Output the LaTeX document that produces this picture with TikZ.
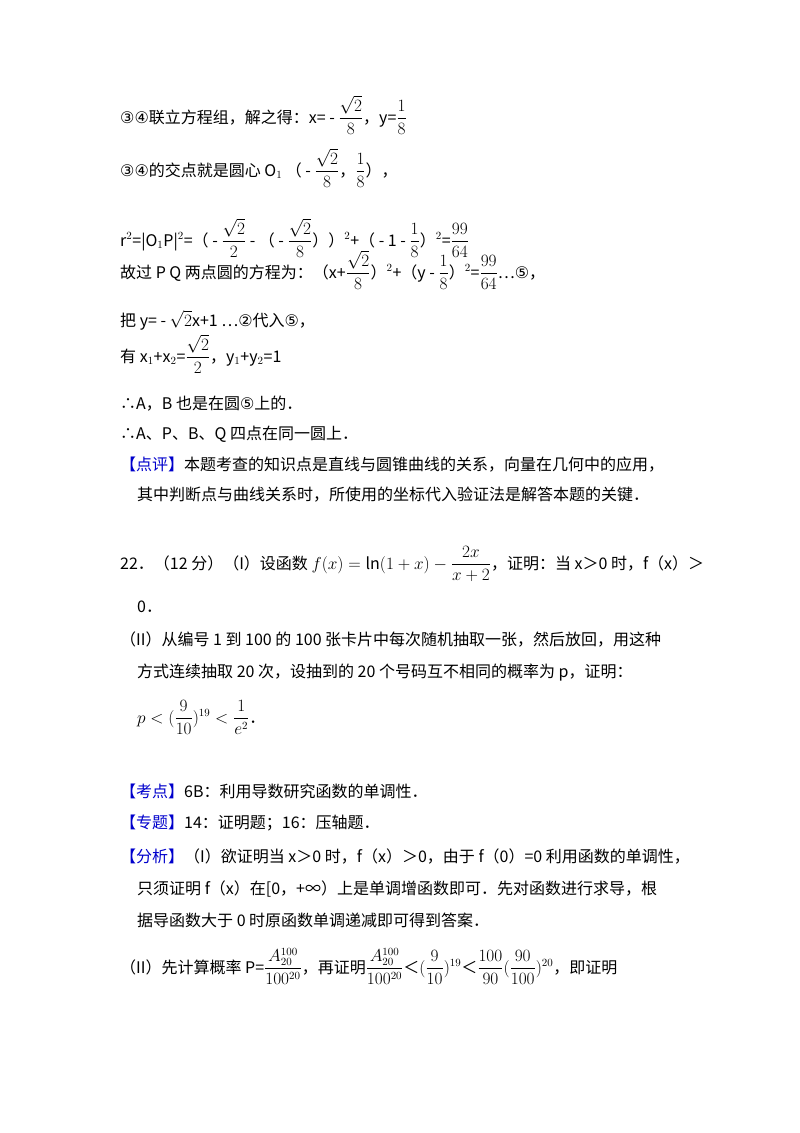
\documentclass[tikz,border=0pt]{standalone}
\usepackage{amsmath}
\usepackage{fontspec}
\setmainfont{Noto Sans CJK SC}
\newfontfamily\dv{DejaVu Sans}
\tikzset{t/.style={anchor=base west,inner sep=0pt,font=\fontsize{16}{19}\selectfont}}
\newcommand{\cc}[1]{{\dv #1}}
\newcommand{\fr}[2]{{\displaystyle\frac{#1}{#2}}}
\begin{document}
\begin{tikzpicture}[x=1pt,y=-1pt]
\fill[white] (0,0) rectangle (800,1133);
\useasboundingbox (0,0) rectangle (800,1133);
\node[t] (l1) at (120,123) {\cc{③④}联立方程组，解之得：x= - $\fr{\sqrt2}{8}$，y=$\fr18$};
\node[t] (l2) at (120,176) {\cc{③④}的交点就是圆心 O$_1$ （ - $\fr{\sqrt2}{8}$，$\fr18$），};
\node[t] (l3) at (120,246) {r$^2$=|O$_1$P|$^2$=（ - $\fr{\sqrt2}{2}$ - （ - $\fr{\sqrt2}{8}$））$^2$+（ - 1 - $\fr18$）$^2$=$\fr{99}{64}$};
\node[t] (l4) at (120,278) {故过 P Q 两点圆的方程为：（x+$\fr{\sqrt2}{8}$）$^2$+（y - $\fr18$）$^2$=$\fr{99}{64}$…\cc{⑤}，};
\node[t] (l5) at (120,326) {把 y= - $\sqrt2$x+1 …\cc{②}代入\cc{⑤}，};
\node[t] (l6) at (120,362) {有 x$_1$+x$_2$=$\fr{\sqrt2}{2}$，y$_1$+y$_2$=1};
\node[t] (l7) at (120,409) {∴A，B 也是在圆\cc{⑤}上的．};
\node[t] (l8) at (120,439) {∴A、P、B、Q 四点在同一圆上．};
\node[t] (l9) at (120,470) {\textcolor{blue!80!black}{【点评】}本题考查的知识点是直线与圆锥曲线的关系，向量在几何中的应用，};
\node[t] (l10) at (137,500) {其中判断点与曲线关系时，所使用的坐标代入验证法是解答本题的关键．};
\node[t] (l11) at (120,569) {22．（12 分）（I）设函数 $f(x)=\ln(1+x)-\fr{2x}{x+2}$，证明：当 x＞0 时，f（x）＞};
\node[t] (l12) at (137,612) {0．};
\node[t] (l13) at (120,645) {（II）从编号 1 到 100 的 100 张卡片中每次随机抽取一张，然后放回，用这种};
\node[t] (l14) at (137,677) {方式连续抽取 20 次，设抽到的 20 个号码互不相同的概率为 p，证明：};
\node[t] (l15) at (137,723) {$p<(\fr{9}{10})^{19}<\fr{1}{e^2}$．};
\node[t] (l16) at (120,797) {\textcolor{blue!80!black}{【考点】}6B：利用导数研究函数的单调性．};
\node[t] (l17) at (120,828) {\textcolor{blue!80!black}{【专题】}14：证明题；16：压轴题．};
\node[t] (l18) at (120,862) {\textcolor{blue!80!black}{【分析】}（I）欲证明当 x＞0 时，f（x）＞0，由于 f（0）=0 利用函数的单调性，};
\node[t] (l19) at (137,894) {只须证明 f（x）在[0，+∞）上是单调增函数即可．先对函数进行求导，根};
\node[t] (l20) at (137,926) {据导函数大于 0 时原函数单调递减即可得到答案．};
\node[t] (l21) at (120,973) {（II）先计算概率 P=$\fr{A_{20}^{100}}{100^{20}}$，再证明$\fr{A_{20}^{100}}{100^{20}}$＜$(\fr{9}{10})^{19}$＜$\fr{100}{90}(\fr{90}{100})^{20}$，即证明};
\end{tikzpicture}
\end{document}
